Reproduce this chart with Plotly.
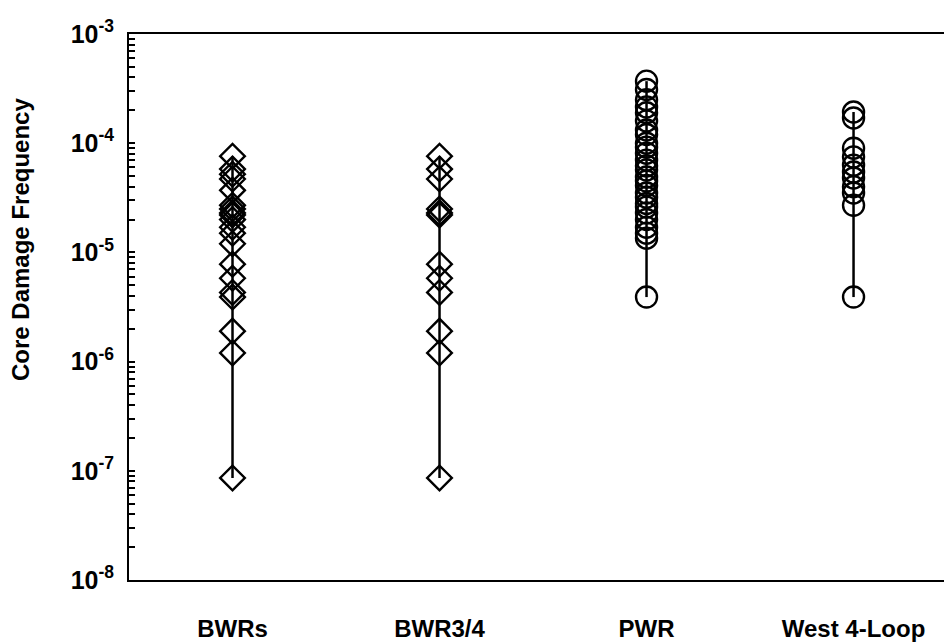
import plotly.graph_objects as go

# Plant groups along the x axis
groups = ["BWRs", "BWR3/4", "PWR", "West 4-Loop"]

# Core damage frequency estimates per plant (per reactor-year), highest first
bwrs = [7.6e-5, 5.8e-5, 5.2e-5, 4.7e-5, 3.7e-5, 2.7e-5, 2.5e-5, 2.3e-5, 2.2e-5,
        2.0e-5, 1.7e-5, 1.5e-5, 1.2e-5, 7.8e-6, 5.8e-6, 4.3e-6, 3.9e-6,
        1.9e-6, 1.2e-6, 8.6e-8]
bwr34 = [7.6e-5, 5.8e-5, 4.7e-5, 2.5e-5, 2.3e-5, 2.2e-5, 7.8e-6, 5.8e-6,
         4.3e-6, 1.9e-6, 1.2e-6, 8.6e-8]
pwr = [3.7e-4, 3.1e-4, 2.5e-4, 2.15e-4, 1.9e-4, 1.6e-4, 1.32e-4, 1.2e-4,
       1.0e-4, 9.2e-5, 8.1e-5, 7.0e-5, 6.2e-5, 5.7e-5, 4.9e-5, 4.5e-5, 4.1e-5,
       3.5e-5, 3.2e-5, 2.8e-5, 2.6e-5, 2.3e-5, 2.0e-5, 1.7e-5, 1.5e-5, 1.35e-5,
       3.9e-6]
west4 = [1.93e-4, 1.7e-4, 9.0e-5, 7.5e-5, 6.3e-5, 5.45e-5, 4.8e-5, 4.0e-5,
         3.5e-5, 2.7e-5, 3.9e-6]

series = [bwrs, bwr34, pwr, west4]
symbols = ["diamond-open", "diamond-open", "circle-open", "circle-open"]
sizes = [19, 19, 21, 21]

# y axis: labelled ticks on the decades, unlabelled ticks at 2..9 within each decade
decades = [-8, -7, -6, -5, -4, -3]
major_vals = [10.0 ** d for d in decades]
major_text = [f"<b>10<sup>{d}</sup></b>" for d in decades]
minor_vals = [m * 10.0 ** d for d in decades[:-1] for m in range(2, 10)]

fig = go.Figure()

for i, vals in enumerate(series):
    xpos = i + 1
    # sorted values joined by a line give the min-to-max range bar
    ordered = sorted(vals, reverse=True)
    fig.add_trace(go.Scatter(
        x=[xpos] * len(ordered), y=ordered, mode="lines+markers",
        line=dict(color="black", width=2.5),
        marker=dict(symbol=symbols[i], size=sizes[i], color="black",
                    line=dict(color="black", width=2.4)),
        name=groups[i], showlegend=False))

fig.update_layout(
    width=944, height=642,
    margin=dict(l=129, r=0, t=34, b=62),
    paper_bgcolor="white", plot_bgcolor="white",
    font=dict(family="Liberation Sans, Arial, sans-serif", color="black", size=24),
    xaxis=dict(
        range=[0.5, 4.437], showgrid=False, zeroline=False,
        showline=True, linecolor="black", linewidth=2, mirror=True,
        tickvals=[1, 2, 3, 4], ticktext=[f"<b>{g}</b>" for g in groups],
        ticks="", ticklabelstandoff=26,
        tickfont=dict(size=24)),
    yaxis=dict(
        type="log", range=[-8, -3], showgrid=False, zeroline=False,
        showline=True, linecolor="black", linewidth=2,
        tickvals=major_vals, ticktext=major_text,
        ticks="inside", ticklen=6, tickwidth=1.5, tickcolor="black",
        minor=dict(tickvals=minor_vals, ticks="inside", ticklen=6,
                   tickwidth=1.5, tickcolor="black", showgrid=False),
        ticklabelstandoff=8,
        tickfont=dict(size=25)),
    annotations=[dict(
        text="<b>Core Damage Frequency</b>", textangle=-90,
        xref="paper", yref="paper", x=-129 / 815 + 20 / 815, y=(580 - 240) / 546,
        xanchor="center", yanchor="middle", showarrow=False,
        font=dict(size=24, color="black"))],
)

fig.write_html("out.html")
